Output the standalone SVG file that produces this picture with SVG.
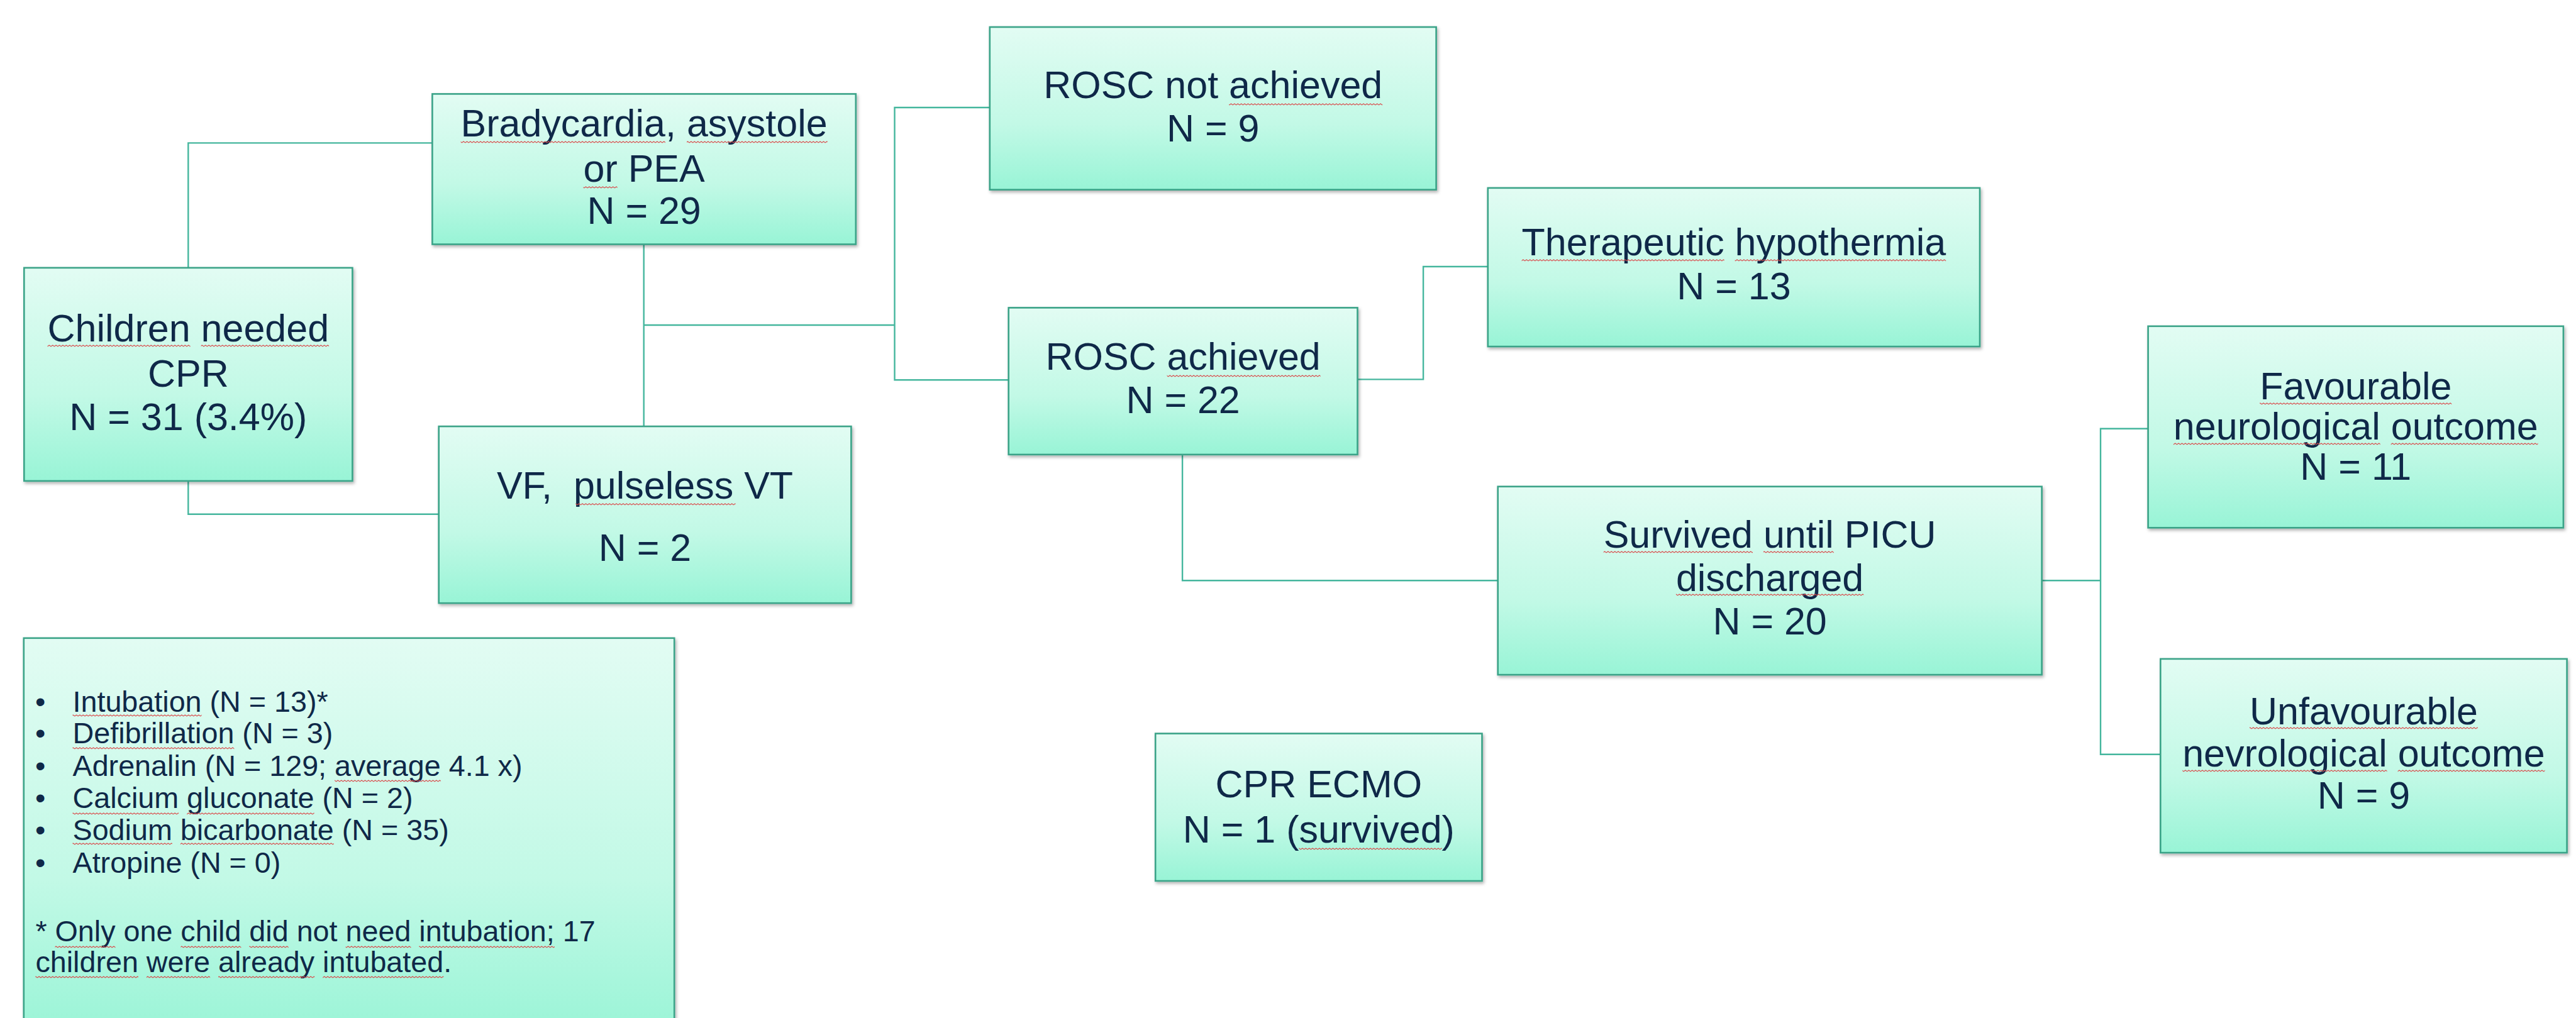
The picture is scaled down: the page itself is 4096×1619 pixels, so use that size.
<svg xmlns="http://www.w3.org/2000/svg" width="4096" height="1619" viewBox="0 0 4096 1619">
<defs>
<linearGradient id="g" x1="0" y1="0" x2="0" y2="1">
<stop offset="0" stop-color="#e2fcf3"/>
<stop offset="0.6" stop-color="#c2f9e6"/>
<stop offset="1" stop-color="#98f4d6"/>
</linearGradient>
<filter id="sh" x="-5%" y="-5%" width="112%" height="115%">
<feDropShadow dx="2" dy="3" stdDeviation="2.5" flood-color="#000" flood-opacity="0.3"/>
</filter>
<pattern id="wv" patternUnits="userSpaceOnUse" x="0" y="0" width="5.4" height="4">
<path d="M0,3 L2.7,0.9 L5.4,3" fill="none" stroke="#d94848" stroke-width="1.1"/>
</pattern>
</defs>
<style>
.box{fill:url(#g);stroke:#3aa388;stroke-width:2.6;filter:url(#sh)}
.t{font-family:"Liberation Sans",Arial,sans-serif;font-size:61px;fill:#0f2848;text-anchor:middle;white-space:pre}
.l{font-family:"Liberation Sans",Arial,sans-serif;font-size:46.7px;fill:#0f2848;white-space:pre}
.w{fill:url(#wv)}
.c{fill:none;stroke:#44b69d;stroke-width:2.4}
</style>
<rect width="4096" height="1619" fill="#ffffff"/>
<g id="connectors">
<path class="c" d="M299.3,425.9 V227.4 H687.4"/>
<path class="c" d="M299.3,765 V817.7 H697.7"/>
<path class="c" d="M1023.7,388.5 V678.1"/>
<path class="c" d="M1023.7,517 H1422.5"/>
<path class="c" d="M1573.8,171 H1422.5 V604.3 H1603.7"/>
<path class="c" d="M2158.5,603.4 H2263.1 V424 H2365.8"/>
<path class="c" d="M1880.1,722.9 V923.3 H2381.7"/>
<path class="c" d="M3246.6,923.3 H3340"/>
<path class="c" d="M3415.6,681.8 H3340 V1199.7 H3435.3"/>
</g>
<g id="children">
<rect class="box" x="38.3" y="425.9" width="522.1" height="339"/>
<text class="t"><tspan x="299.3" y="542.7">Children needed</tspan><tspan x="299.3" y="614.6">CPR</tspan><tspan x="299.3" y="683.7">N = 31 (3.4%)</tspan></text>
<rect class="w" x="75.5" y="548" width="227.1" height="4"/>
<rect class="w" x="319.6" y="548" width="203.5" height="4"/>
</g>
<g id="bradycardia">
<rect class="box" x="687.4" y="149.4" width="673.4" height="239.1"/>
<text class="t"><tspan x="1024.1" y="216.7">Bradycardia, asystole</tspan><tspan x="1024.1" y="289.1">or PEA</tspan><tspan x="1024.1" y="355.9">N = 29</tspan></text>
<rect class="w" x="732.6" y="224" width="325.4" height="4"/>
<rect class="w" x="1092" y="224" width="223.7" height="4"/>
<rect class="w" x="927.5" y="296" width="54.2" height="4"/>
</g>
<g id="vf">
<rect class="box" x="697.7" y="678.1" width="655.7" height="281.1"/>
<text class="t"><tspan x="1025.5" y="793">VF,  pulseless VT</tspan><tspan x="1025.5" y="892">N = 2</tspan></text>
<rect class="w" x="915.3" y="800" width="254.2" height="4"/>
</g>
<g id="rosc-not">
<rect class="box" x="1573.8" y="43" width="709.8" height="258.7"/>
<text class="t"><tspan x="1928.7" y="156">ROSC not achieved</tspan><tspan x="1928.7" y="225.1">N = 9</tspan></text>
<rect class="w" x="1954.1" y="164" width="244.1" height="4"/>
</g>
<g id="rosc">
<rect class="box" x="1603.7" y="489.4" width="554.8" height="233.5"/>
<text class="t"><tspan x="1881.1" y="588.4">ROSC achieved</tspan><tspan x="1881.1" y="656.6">N = 22</tspan></text>
<rect class="w" x="1855.6" y="596" width="244.1" height="4"/>
</g>
<g id="hypothermia">
<rect class="box" x="2365.8" y="298.9" width="782.2" height="252.2"/>
<text class="t"><tspan x="2756.9" y="406.3">Therapeutic hypothermia</tspan><tspan x="2756.9" y="476.3">N = 13</tspan></text>
<rect class="w" x="2419.6" y="412" width="322.1" height="4"/>
<rect class="w" x="2758.6" y="412" width="335.6" height="4"/>
</g>
<g id="survived">
<rect class="box" x="2381.7" y="773.8" width="864.9" height="299.3"/>
<text class="t"><tspan x="2814.1" y="870.5">Survived until PICU</tspan><tspan x="2814.1" y="939.6">discharged</tspan><tspan x="2814.1" y="1008.7">N = 20</tspan></text>
<rect class="w" x="2549.7" y="876" width="237.3" height="4"/>
<rect class="w" x="2803.9" y="876" width="111.9" height="4"/>
<rect class="w" x="2664.9" y="944" width="298.4" height="4"/>
</g>
<g id="favourable">
<rect class="box" x="3415.6" y="518.8" width="660.3" height="320.5"/>
<text class="t"><tspan x="3745.8" y="635.1">Favourable</tspan><tspan x="3745.8" y="698.6">neurological outcome</tspan><tspan x="3745.8" y="763.1">N = 11</tspan></text>
<rect class="w" x="3593.2" y="640" width="305.1" height="4"/>
<rect class="w" x="3455.9" y="704" width="328.9" height="4"/>
<rect class="w" x="3801.7" y="704" width="233.9" height="4"/>
</g>
<g id="unfavourable">
<rect class="box" x="3435.3" y="1047.9" width="646.3" height="308.2"/>
<text class="t"><tspan x="3758.4" y="1151.6">Unfavourable</tspan><tspan x="3758.4" y="1218.9">nevrological outcome</tspan><tspan x="3758.4" y="1286.1">N = 9</tspan></text>
<rect class="w" x="3577" y="1156" width="362.8" height="4"/>
<rect class="w" x="3470.2" y="1224" width="325.4" height="4"/>
<rect class="w" x="3812.6" y="1224" width="233.9" height="4"/>
</g>
<g id="ecmo">
<rect class="box" x="1837.2" y="1166.6" width="519.3" height="234.4"/>
<text class="t"><tspan x="2096.8" y="1268.4">CPR ECMO</tspan><tspan x="2096.8" y="1340.3">N = 1 (survived)</tspan></text>
<rect class="w" x="2065.5" y="1348" width="227.1" height="4"/>
</g>
<g id="legend">
<rect class="box" x="37.8" y="1014.8" width="1034.4" height="640"/>
<text class="l">
<tspan x="56" y="1132">•</tspan><tspan x="115.5" y="1132">Intubation (N = 13)*</tspan>
<tspan x="56" y="1182.4">•</tspan><tspan x="115.5" y="1182.4">Defibrillation (N = 3)</tspan>
<tspan x="56" y="1234.3">•</tspan><tspan x="115.5" y="1234.3">Adrenalin (N = 129; average 4.1 x)</tspan>
<tspan x="56" y="1285.2">•</tspan><tspan x="115.5" y="1285.2">Calcium gluconate (N = 2)</tspan>
<tspan x="56" y="1335.6">•</tspan><tspan x="115.5" y="1335.6">Sodium bicarbonate (N = 35)</tspan>
<tspan x="56" y="1387.9">•</tspan><tspan x="115.5" y="1387.9">Atropine (N = 0)</tspan>
<tspan x="56.4" y="1497.2">* Only one child did not need intubation; 17</tspan>
<tspan x="56.4" y="1545.8">children were already intubated.</tspan>
</text>
<rect class="w" x="115.5" y="1136" width="205.1" height="4"/>
<rect class="w" x="115.5" y="1188" width="256.9" height="4"/>
<rect class="w" x="532.1" y="1240" width="168.7" height="4"/>
<rect class="w" x="115.5" y="1292" width="168.6" height="4"/>
<rect class="w" x="297.1" y="1292" width="202.5" height="4"/>
<rect class="w" x="115.5" y="1340" width="158.3" height="4"/>
<rect class="w" x="286.8" y="1340" width="244" height="4"/>
<rect class="w" x="87.5" y="1504" width="96" height="4"/>
<rect class="w" x="287.4" y="1504" width="96" height="4"/>
<rect class="w" x="396.4" y="1504" width="62.3" height="4"/>
<rect class="w" x="549.6" y="1504" width="103.9" height="4"/>
<rect class="w" x="666.4" y="1504" width="215.5" height="4"/>
<rect class="w" x="56.4" y="1552" width="163.5" height="4"/>
<rect class="w" x="232.9" y="1552" width="101.2" height="4"/>
<rect class="w" x="347.1" y="1552" width="153.1" height="4"/>
<rect class="w" x="513.2" y="1552" width="192.1" height="4"/>
</g>
</svg>
